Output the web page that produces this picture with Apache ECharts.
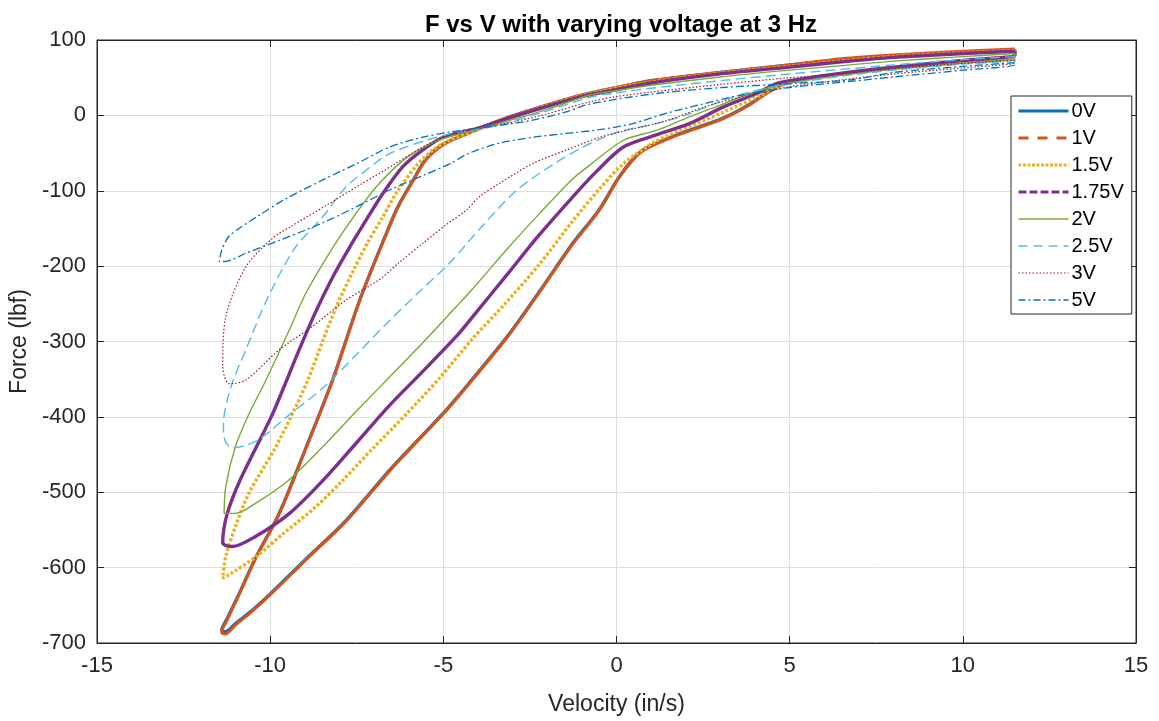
<!DOCTYPE html>
<html>
<head>
<meta charset="utf-8">
<script src="https://cdn.jsdelivr.net/npm/echarts@6/dist/echarts.min.js"></script>
<style>
html,body{margin:0;padding:0;background:#fff;}
#chart{width:1159px;height:721px;}
</style>
</head>
<body>
<div id="chart"></div>
<script>
// ---- Data (velocity in/s, force lbf), each loop: upper branch leftward, then lower branch rightward ----
const seriesNames = ['0V','1V','1.5V','1.75V','2V','2.5V','3V','5V'];
const seriesColors = ['#0072BD','#D95319','#EDB120','#7E2F8E','#77AC30','#4DBEEE','#A2142F','#0072BD'];
const xTicks = [-15,-10,-5,0,5,10,15];
const yTicks = [-700,-600,-500,-400,-300,-200,-100,0,100];

const loop0V = [[11.5,87],[10,84],[8,79],[6.5,74],[5,67],[3,57],[1,46],[0,37],[-1,27],[-2.2,11],[-3.4,-7],[-4.3,-24],[-5,-38],[-5.5,-58],[-5.9,-88],[-6.3,-120],[-6.65,-157],[-7.4,-243],[-8.2,-351],[-8.96,-440],[-9.74,-528],[-10.4,-585],[-10.9,-635],[-11.25,-668],[-11.4,-683],[-11.3,-685],[-11.0,-674],[-10.5,-656],[-10.0,-635],[-9.0,-590],[-7.8,-537],[-6.5,-468],[-5.0,-395],[-4.2,-352],[-3.1,-290],[-2.2,-232],[-1.3,-172],[-0.5,-125],[0.1,-80],[0.7,-48],[1.5,-30],[2.2,-18],[3.1,-3],[3.85,15],[4.4,32],[5,45],[6.5,55],[8,63],[10,72],[11.5,79],[11.5,87]];
const loop1V = [[11.5,88],[10,85],[8,80],[6.5,75],[5,67],[3,57],[1,46],[0,37],[-1,27],[-2.2,11],[-3.4,-7],[-4.3,-24],[-5,-39],[-5.5,-59],[-5.9,-89],[-6.3,-121],[-6.65,-158],[-7.4,-244],[-8.2,-352],[-8.96,-441],[-9.74,-529],[-10.4,-586],[-10.9,-636],[-11.25,-670],[-11.4,-686],[-11.3,-688],[-11.0,-676],[-10.5,-657],[-10.0,-636],[-9.0,-591],[-7.8,-538],[-6.5,-469],[-5.0,-396],[-4.2,-353],[-3.1,-291],[-2.2,-233],[-1.3,-173],[-0.5,-126],[0.1,-81],[0.7,-49],[1.5,-31],[2.2,-19],[3.1,-4],[3.85,14],[4.4,31],[5,44],[6.5,55],[8,63],[10,72],[11.5,79],[11.5,88]];
const loop1p5V = [[11.5,86],[10,83],[8,78],[6.5,72],[5,65],[3,56],[1,44],[0,36],[-1,26],[-2,13],[-3,-3],[-4,-19],[-4.82,-33],[-5.3,-46],[-5.8,-68],[-6.37,-104],[-6.75,-135],[-7.2,-170],[-7.62,-208],[-8.1,-255],[-8.49,-300],[-8.9,-350],[-9.4,-400],[-9.9,-445],[-10.6,-500],[-11.0,-545],[-11.28,-585],[-11.37,-614],[-11.1,-607],[-10.4,-585],[-9.6,-554],[-8.7,-520],[-7.9,-484],[-7.04,-442],[-6.0,-393],[-5.1,-348],[-4.15,-296],[-3.2,-249],[-2.2,-196],[-1.26,-140],[-0.48,-97],[0.2,-64],[1.15,-34],[2.1,-15],[3.07,4],[4.04,24],[4.6,37],[5,44],[6.5,55],[8,63],[10,72],[11.5,79],[11.5,86]];
const loop1p75V = [[11.5,85],[10,82],[8,77],[6.5,71],[5,64],[3,55],[1,43],[0,34],[-1,25],[-2,12],[-3,-2],[-4,-17],[-5,-29],[-5.6,-46],[-6.17,-68],[-6.75,-104],[-7.23,-139],[-7.72,-176],[-8.2,-215],[-8.7,-262],[-9.2,-315],[-9.6,-360],[-9.95,-398],[-10.4,-440],[-10.9,-487],[-11.25,-530],[-11.37,-567],[-11.1,-572],[-10.4,-558],[-9.44,-528],[-8.49,-485],[-7.5,-434],[-6.56,-385],[-5.6,-340],[-4.6,-292],[-4.15,-267],[-3.19,-213],[-2.22,-158],[-1.26,-108],[-0.59,-75],[0.2,-42],[1.15,-26],[2.1,-11],[3.07,11],[4.04,29],[4.6,42],[5,46],[6.5,56],[8,64],[10,73],[11.5,80],[11.5,85]];
const loop2V = [[11.5,82],[10,78],[8,72],[6.5,66],[5,60],[3,51],[1,40],[0,33],[-0.77,27],[-2,8],[-3.5,-12],[-4.8,-28],[-5.4,-38],[-6.17,-60],[-6.94,-95],[-7.52,-130],[-8.2,-176],[-8.97,-236],[-9.45,-285],[-10.12,-351],[-10.6,-395],[-11.0,-439],[-11.28,-492],[-11.33,-528],[-11.0,-528],[-10.4,-514],[-9.44,-483],[-8.49,-440],[-7.5,-392],[-6.55,-347],[-5.6,-302],[-4.63,-254],[-4.15,-230],[-3.19,-179],[-2.22,-130],[-1.26,-84],[-0.77,-66],[0.2,-33],[1.15,-20],[2.1,-2],[3.07,15],[3.85,29],[4.5,38],[5,43],[6.5,53],[8,61],[10,69],[11.5,76],[11.5,82]];
const loop2p5V = [[11.5,78],[10,74],[8,67],[6.5,61],[5,55],[3,46],[1,36],[0,30],[-0.77,24],[-2,6],[-3.5,-14],[-4.5,-22],[-5.2,-29],[-6.08,-42],[-6.65,-53],[-7.04,-66],[-7.81,-95],[-8.49,-135],[-9.3,-177],[-10.1,-245],[-10.7,-311],[-11.13,-360],[-11.35,-410],[-11.3,-432],[-11.09,-441],[-10.4,-432],[-9.44,-397],[-8.49,-362],[-7.52,-318],[-6.55,-272],[-5.6,-230],[-4.8,-195],[-3.9,-148],[-2.9,-100],[-1.93,-68],[-0.97,-42],[-0.3,-28],[0.2,-20],[1.15,-11],[2.1,2],[3.07,20],[4.04,33],[5,42],[6.5,52],[8,60],[10,68],[11.5,74],[11.5,78]];
const loop3V = [[11.5,73],[10,69],[8,62],[6.5,55],[5,50],[3,41],[1,31],[0,25],[-0.77,18],[-2,2],[-3,-9],[-4,-17],[-4.82,-26],[-5.6,-42],[-6.45,-66],[-7.4,-92],[-8.4,-120],[-9.35,-146],[-9.93,-163],[-10.7,-201],[-11.28,-267],[-11.37,-333],[-11.18,-356],[-10.7,-351],[-9.74,-311],[-8.78,-280],[-7.81,-245],[-6.85,-218],[-6.27,-195],[-5.6,-170],[-4.92,-145],[-4.34,-126],[-3.96,-108],[-3.37,-90],[-2.42,-64],[-1.45,-46],[-0.48,-29],[0.47,-18],[1.44,-7],[2.6,12],[3.56,24],[4.5,33],[5,38],[6.5,47],[8,55],[10,63],[11.5,70],[11.5,73]];
const loop5V = [[11.5,70],[10,65],[8,57],[6.74,47],[5,42],[3.07,37],[1.15,29],[-0.77,15],[-1.5,4],[-2.5,-7],[-3.5,-14],[-4.8,-22],[-5.6,-29],[-6.55,-42],[-7.5,-64],[-8.5,-86],[-9.6,-112],[-10.4,-135],[-10.9,-150],[-11.2,-161],[-11.4,-179],[-11.47,-194],[-11.2,-193],[-10.7,-183],[-9.74,-166],[-8.5,-143],[-7.5,-121],[-6.55,-99],[-5.6,-80],[-4.8,-64],[-4.3,-51],[-3.4,-37],[-2.4,-29],[-1.45,-24],[-0.5,-19],[0.46,-11],[1.45,3],[2.4,14],[3.5,26],[5,37],[6.74,45],[8,51],[10,60],[11.5,67],[11.5,70]];

const loops = [loop0V, loop1V, loop1p5V, loop1p75V, loop2V, loop2p5V, loop3V, loop5V];
const plotStyles = [
  {width:3.2, type:'solid'},
  {width:3.0, type:'solid'},
  {width:3.4, type:[3,2]},
  {width:3.4, type:'solid'},
  {width:1.4, type:'solid'},
  {width:1.4, type:[10,5]},
  {width:1.2, type:[1.5,2]},
  {width:1.3, type:[8,3,2,3]}
];
const legendStyles = [
  {width:3, type:'solid'},
  {width:3, type:[10,9]},
  {width:3, type:[3,1.5]},
  {width:3, type:[8,3]},
  {width:1.3, type:'solid'},
  {width:1.3, type:[9,6]},
  {width:1.2, type:[1.5,2]},
  {width:1.3, type:[7,3,2,3]}
];

const chart = echarts.init(document.getElementById('chart'), null, {renderer:'canvas'});
const FONT = '"Liberation Sans", Arial, Helvetica, sans-serif';

const series = loops.map((d, i) => ({
  name: seriesNames[i],
  type: 'line',
  data: d,
  showSymbol: false,
  symbol: 'none',
  smooth: 0.3,
  clip: true,
  lineStyle: {color: seriesColors[i], width: plotStyles[i].width, type: plotStyles[i].type, cap: 'butt'},
  itemStyle: {color: seriesColors[i]},
  emphasis: {disabled: true},
  animation: false
}));

const option = {
  animation: false,
  backgroundColor: '#ffffff',
  title: {
    text: 'F vs V with varying voltage at 3 Hz',
    left: 616, top: 8, textAlign: 'center',
    textStyle: {fontFamily: FONT, fontSize: 24, fontWeight: 'bold', color: '#000'}
  },
  grid: {left: 97, right: 23, top: 40, bottom: 78, show: true, borderColor: '#262626', borderWidth: 1, backgroundColor: '#fff'},
  legend: {
    orient: 'vertical', left: 1011, top: 96,
    itemWidth: 50, itemHeight: 14, itemGap: 7,
    padding: [5, 8, 4, 6],
    backgroundColor: '#fff', borderColor: '#262626', borderWidth: 1, borderRadius: 0,
    selectedMode: false,
    textStyle: {fontFamily: FONT, fontSize: 20, color: '#000', padding: [0,0,0,-2]},
    data: seriesNames.map((n, i) => ({
      name: n,
      itemStyle: {opacity: 0, borderWidth: 0},
      lineStyle: {color: seriesColors[i], width: legendStyles[i].width, type: legendStyles[i].type, opacity: 1}
    }))
  },
  xAxis: [{
    type: 'value', min: -15, max: 15, interval: 5, position: 'bottom',
    name: 'Velocity (in/s)', nameLocation: 'middle', nameGap: 50,
    nameTextStyle: {fontFamily: FONT, fontSize: 23, color: '#262626'},
    axisLine: {show: true, onZero: false, lineStyle: {color: '#262626', width: 1}},
    axisTick: {show: true, inside: true, length: 7, lineStyle: {color: '#262626'}},
    axisLabel: {fontFamily: FONT, fontSize: 22, color: '#262626', margin: 12, formatter: v => xTicks.includes(v) ? String(v) : ''},
    splitLine: {show: true, lineStyle: {color: '#dedede', width: 1}}
  }, {
    type: 'value', min: -15, max: 15, interval: 5, position: 'top',
    axisLine: {show: true, onZero: false, lineStyle: {color: '#262626'}},
    axisTick: {show: true, inside: true, length: 7, lineStyle: {color: '#262626'}},
    axisLabel: {show: false}, splitLine: {show: false}
  }],
  yAxis: [{
    type: 'value', min: -700, max: 100, interval: 100, position: 'left',
    name: 'Force (lbf)', nameLocation: 'middle', nameGap: 63,
    nameTextStyle: {fontFamily: FONT, fontSize: 23, color: '#262626'},
    axisLine: {show: true, onZero: false, lineStyle: {color: '#262626', width: 1}},
    axisTick: {show: true, inside: true, length: 7, lineStyle: {color: '#262626'}},
    axisLabel: {fontFamily: FONT, fontSize: 22, color: '#262626', margin: 11, formatter: v => yTicks.includes(v) ? String(v) : ''},
    splitLine: {show: true, lineStyle: {color: '#dedede', width: 1}}
  }, {
    type: 'value', min: -700, max: 100, interval: 100, position: 'right',
    axisLine: {show: true, onZero: false, lineStyle: {color: '#262626'}},
    axisTick: {show: true, inside: true, length: 7, lineStyle: {color: '#262626'}},
    axisLabel: {show: false}, splitLine: {show: false}
  }],
  series: series
};
chart.setOption(option);
</script>
</body>
</html>
